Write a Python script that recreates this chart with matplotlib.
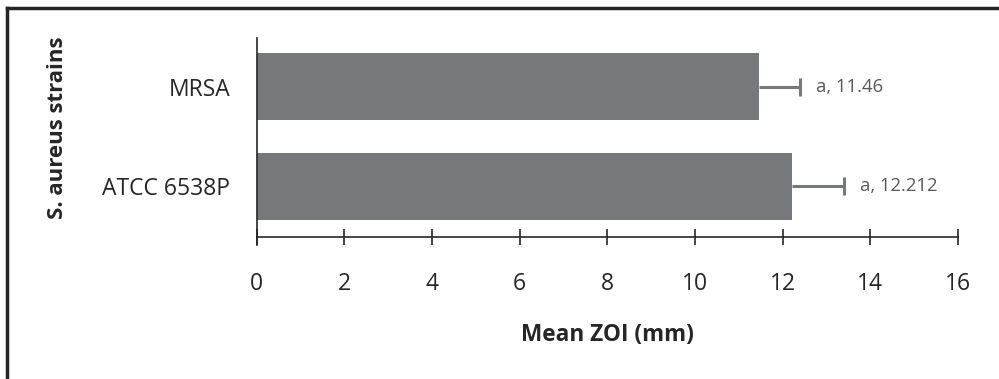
import matplotlib.pyplot as plt
from matplotlib.lines import Line2D

plt.rcParams['font.family'] = ['Open Sans', 'DejaVu Sans']

strains = ['MRSA', 'ATCC 6538P']
mean_zoi = [11.46, 12.212]
zoi_err = [0.94, 1.19]
letters = ['a', 'a']
x_ticks = [0, 2, 4, 6, 8, 10, 12, 14, 16]

BAR_COLOR = '#77787b'
TEXT_GREY = '#595959'
DARK = '#262626'

fig = plt.figure(figsize=(9.99, 3.79), dpi=100)
ax = fig.add_axes([0.257, 0.3747, 0.702, 0.525])

ypos = list(range(len(strains)))
ax.barh(ypos, mean_zoi, height=0.67, color=BAR_COLOR)

# one-sided error bars: line from the bar end, cap on the right only
ends = [m + e for m, e in zip(mean_zoi, zoi_err)]
ax.hlines(ypos, mean_zoi, ends, color=BAR_COLOR, lw=2.2)
ax.plot(ends, ypos, ls='none', marker='|', ms=13, mew=2.2, color=BAR_COLOR)

for y, m, end, lt in zip(ypos, mean_zoi, ends, letters):
    ax.text(end + 0.35, y, f'{lt}, {m:g}', va='center', ha='left',
            fontsize=13.3, color=TEXT_GREY)

ax.set_ylim(1.505, -0.485)
ax.set_xlim(0, 16)
ax.set_yticks(ypos)
ax.set_yticklabels(strains, fontsize=16.5, color=DARK)
ax.set_xticks(x_ticks)
ax.set_xticklabels([str(t) for t in x_ticks], fontsize=16.5, color=DARK)
ax.tick_params(axis='x', direction='inout', length=12, width=1.2, color=DARK, pad=19)
ax.tick_params(axis='y', length=0, pad=19)

for s in ['top', 'right']:
    ax.spines[s].set_visible(False)
for s in ['left', 'bottom']:
    ax.spines[s].set_color(DARK)
    ax.spines[s].set_linewidth(1.2)
ax.spines['left'].set_bounds(1.585, -0.485)

ax.set_xlabel('Mean ZOI (mm)', fontsize=16.3, fontweight='bold', color=DARK, labelpad=20)
fig.text(0.058, 0.662, 'S. aureus strains', rotation=90, ha='center', va='center',
         fontsize=16, fontweight='bold', color=DARK)

# frame lines along the top and left edge
fig.add_artist(Line2D([0.007, 1.0], [0.979, 0.979], color=DARK, lw=2.5,
                      transform=fig.transFigure))
fig.add_artist(Line2D([0.007, 0.007], [0.0, 0.979], color=DARK, lw=2.5,
                      transform=fig.transFigure))

fig.savefig('out.png', dpi=100)
